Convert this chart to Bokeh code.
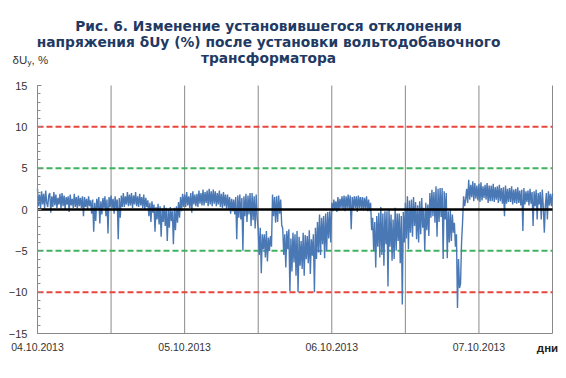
from bokeh.plotting import figure
from bokeh.models import Range1d, FixedTicker, Label, LinearAxis, Grid
from bokeh.embed import file_html
from bokeh.resources import INLINE

# ---- data: deviation dUy (%) every 10 min, starting 04.10.2013 00:00 ----
du = [
    2.5, 0.4, 1.8, 0.2, 2.2, 0.6,    # h0
    1.9, 0.1, 2.3, 0.8, 0.3, 1.7,
    2.0, -0.4, 1.6, 0.3, 2.1, 0.5,
    1.8, 0.2, 1.4, 0.6, 1.9, 0.1,
    2.0, 0.4, 1.7, 0.0, 1.5, 0.6,
    1.6, -0.3, 1.8, 0.5, 1.3, 0.2,
    1.9, 0.3, 1.5, 0.1, 1.7, 0.4,
    1.4, 0.2, 1.6, -0.8, 1.5, 0.3,
    1.3, 0.0, 1.6, 0.4, 1.1, -0.5,
    1.2, -2.7, 0.8, -1.4, 1.3, 0.1,
    1.5, -1.7, 1.0, -0.6, 1.4, 0.2,  # h10
    1.6, -0.8, 1.2, -2.9, 1.5, 0.3,
    1.7, 0.2, 1.3, -0.5, 1.6, 0.1,
    1.2, -3.6, 1.4, -1.0, 1.7, 0.3,
    2.0, 0.3, 1.6, 0.6, 2.1, 0.4,
    1.8, 0.5, 2.0, 0.2, 1.7, 0.6,
    2.1, 0.4, 1.6, 0.3, 1.9, 0.5,
    1.5, 0.2, 1.8, 0.0, 1.4, 0.3,
    1.1, -0.8, 0.8, -1.5, 1.0, -0.4,
    0.6, -2.7, 0.3, -1.2, 0.7, -1.8,
    0.4, -3.3, 0.1, -1.5, 0.5, -2.0,  # h20
    0.2, -3.8, 0.0, -2.2, 0.3, -1.4,
    -0.2, -4.2, 0.2, -2.5, 0.4, -1.6,
    0.9, -1.0, 1.5, -0.2, 1.9, 0.3,
    1.8, 0.3, 2.1, 0.5, 1.6, 0.2,
    2.0, -0.4, 2.2, 0.6, 1.8, 0.4,
    1.9, 0.3, 2.3, 0.7, 2.0, 0.5,
    2.4, 0.5, 2.1, 0.8, 2.3, 0.4,
    2.5, 0.6, 2.2, 0.4, 2.4, 0.7,
    2.2, 0.4, 2.0, 0.6, 2.3, 0.3,
    1.9, 0.2, 2.1, 0.4, 1.8, 0.1,    # h30
    1.8, 0.0, 1.5, -0.5, 1.3, -0.2,
    1.2, -0.6, 1.5, -3.6, 1.7, -1.0,
    1.8, -1.2, 1.4, -5.0, 1.6, -0.8,
    1.9, -1.5, 1.7, -0.6, 2.0, -2.0,
    2.0, -1.3, 1.6, -2.3, 1.8, -1.0,
    -2.5, -5.5, -2.2, -7.7, -3.0, -4.8,
    -3.0, -5.8, -2.6, -6.3, -3.4, -5.0,
    -3.2, -4.5, 1.8, -0.8, 1.5, -1.6,
    1.6, -1.5, 1.7, -0.5, 1.2, -1.9,
    -2.3, -5.5, -3.0, -7.0, -2.6, -4.8,  # h40
    -2.4, -9.9, -3.5, -7.5, -2.8, -6.4,
    -3.0, -8.0, -2.6, -10.0, -3.3, -6.8,
    -3.8, -7.2, -2.8, -8.0, -3.1, -6.0,
    -3.2, -6.5, -2.5, -7.8, -3.6, -5.6,
    -3.0, -10.0, -2.2, -6.0, -1.5, -5.2,
    -0.6, -5.5, -1.0, -4.2, -0.8, -5.9,
    -0.5, -5.0, -0.3, -3.5, -0.2, -4.0,
    0.8, -0.2, 1.2, 0.0, 1.0, -0.3,
    1.5, -0.1, 1.3, 0.2, 1.6, 0.0,
    1.7, -0.2, 1.6, 0.1, 1.8, -0.1,  # h50
    1.7, -2.4, 1.5, 0.0, 1.6, 0.2,
    1.6, -0.3, 1.7, 0.2, 1.5, 0.0,
    1.5, -0.1, 1.4, 0.1, 1.6, -0.2,
    1.2, -0.2, 0.8, -2.5, -1.0, -5.0,
    -1.5, -7.0, -0.8, -4.5, -0.4, -5.8,
    0.3, -5.5, -0.5, -6.8, -0.2, -4.2,
    -0.2, -9.3, 0.0, -4.5, -0.6, -6.2,
    -1.2, -6.0, 0.2, -5.0, -0.5, -3.8,
    -0.5, -6.5, -0.8, -11.5, -0.3, -4.0,
    0.8, -3.5, 1.6, -4.8, 1.1, -2.8,  # h60
    1.2, -3.3, 1.5, -2.0, 0.9, -3.6,
    0.5, -4.0, 1.0, -3.0, 1.4, -2.2,
    0.2, -5.0, 0.8, -2.5, 0.6, -3.2,
    2.0, -1.0, 2.4, -0.8, 2.1, -1.6,
    2.8, -3.3, 2.5, -1.5, 2.6, -0.9,
    2.6, -6.0, 2.2, -1.2, 2.0, -5.9,
    -0.2, -4.0, 0.0, -3.8, -0.6, -2.8,
    -1.6, -4.5, -3.0, -11.9, -6.0, -9.5,
    -9.0, -4.0, -1.5, 1.6, 0.4, 1.2,
    2.5, 0.8, 3.6, 1.2, 3.0, 1.5,    # h70
    3.4, 1.0, 3.2, 1.3, 2.9, 1.1,
    3.1, 0.9, 3.3, 1.1, 2.8, 1.4,
    3.0, 1.2, 3.2, 0.8, 2.9, 1.0,
    2.9, 1.0, 3.1, 0.9, 2.7, 1.2,
    2.8, 0.8, 3.0, 1.0, 2.6, 0.7,
    2.7, -0.8, 2.9, 0.7, 2.5, 0.9,
    2.6, 0.9, 2.8, 0.6, 2.4, 0.8,
    2.5, 0.7, 2.7, 0.8, 2.3, 0.5,
    2.4, -2.6, 2.6, 0.6, 2.2, 0.9,
    2.3, 0.5, 2.5, 0.7, 2.1, -2.0,   # h80
    2.2, 0.4, 2.4, -1.2, 2.0, 0.6,
    2.1, -1.2, 2.4, 0.3, -2.8, 0.5,
    2.0, -1.2, 2.2, 0.5, 1.9, 0.4,
    1.9,                             # h84
]
step_hours = 1 / 6
hours = [i * step_hours for i in range(len(du))]

x_ticks = [0, 12, 24, 36, 48, 60, 72, 84]
x_tick_labels = ["04.10.2013", "", "05.10.2013", "", "06.10.2013", "", "07.10.2013", ""]
y_ticks = [-15, -10, -5, 0, 5, 10, 15]
limit_red = [10, -10]
limit_green = [5, -5]

title_lines = [
    "Рис. 6. Изменение установившегося отклонения",
    "напряжения δUy (%) после установки вольтодобавочного",
    "трансформатора",
]

xmin, xmax = 0, 84
ymin, ymax = -15, 15

# canvas / plot-area geometry (pixels)
W, H = 566, 378
L, R, T, B = 37, 552, 85, 333


def dx(px):
    return xmin + (px - L) * (xmax - xmin) / (R - L)


def dy(py):
    return ymax - (py - T) * (ymax - ymin) / (B - T)


p = figure(width=W, height=H, output_backend="svg", toolbar_location=None,
           x_range=Range1d(dx(0), dx(W)), y_range=Range1d(dy(H), dy(0)),
           x_axis_location=None, y_axis_location=None,
           min_border=0)
p.outline_line_color = None
p.background_fill_color = "white"
p.border_fill_color = "white"
for g in p.select(type=Grid):
    g.visible = False

grid_col = "#8a8a8a"
tick_font = "Liberation Sans"

# vertical grid lines every 12 h
p.segment(x0=x_ticks, y0=[ymin] * len(x_ticks), x1=x_ticks, y1=[ymax] * len(x_ticks),
          line_color=grid_col, line_width=1)

xaxis = LinearAxis(fixed_location=ymin, bounds=(xmin, xmax),
                   ticker=FixedTicker(ticks=x_ticks),
                   major_label_overrides={t: l for t, l in zip(x_ticks, x_tick_labels)},
                   major_tick_out=0, major_tick_in=0, minor_tick_out=0, minor_tick_in=0,
                   major_label_standoff=9, axis_line_color=grid_col,
                   major_label_text_font=tick_font, major_label_text_font_size="10.5px",
                   major_label_text_color="#333333")
p.add_layout(xaxis, "below")

yaxis = LinearAxis(fixed_location=xmin, bounds=(ymin, ymax),
                   ticker=FixedTicker(ticks=y_ticks, minor_ticks=list(range(ymin, ymax + 1))),
                   major_tick_out=0, major_tick_in=4, minor_tick_out=0, minor_tick_in=3,
                   major_tick_line_color=grid_col, minor_tick_line_color=grid_col,
                   axis_line_color=grid_col, major_label_standoff=10,
                   major_label_text_font=tick_font, major_label_text_font_size="11px",
                   major_label_text_color="#333333")
p.add_layout(yaxis, "left")

# reference levels
for v in limit_red:
    p.segment(x0=xmin, y0=v, x1=xmax, y1=v, line_color="#e8453c", line_width=2, line_dash="6 3")
for v in limit_green:
    p.segment(x0=xmin, y0=v, x1=xmax, y1=v, line_color="#3fb25e", line_width=2, line_dash="6 3")

p.line(hours, du, line_color="#4a78b5", line_width=1.4)
p.segment(x0=xmin, y0=0, x1=xmax, y1=0, line_color="black", line_width=2.5)


def lab(px, py, text, size, bold=False, align="left", col="#333333", font="Liberation Sans"):
    p.add_layout(Label(x=dx(px), y=dy(py), text=text, text_align=align,
                       text_baseline="middle", text_font=font, text_font_size=size,
                       text_font_style=("bold" if bold else "normal"), text_color=col))


for txt, py in zip(title_lines, [25, 41, 57]):
    lab(268, py, txt, "13.8px", bold=True, align="center", col="#1f3a63", font="DejaVu Sans")

# y axis title  δU_y, %
lab(12, 59, "δU", "11.5px")
lab(27, 62, "y", "8px")
lab(31, 59, ", %", "11.5px")
# x axis unit
lab(547, 347, "дни", "11.5px", bold=True, align="center", col="#222222")

open("out.html", "w").write(file_html(p, INLINE))
